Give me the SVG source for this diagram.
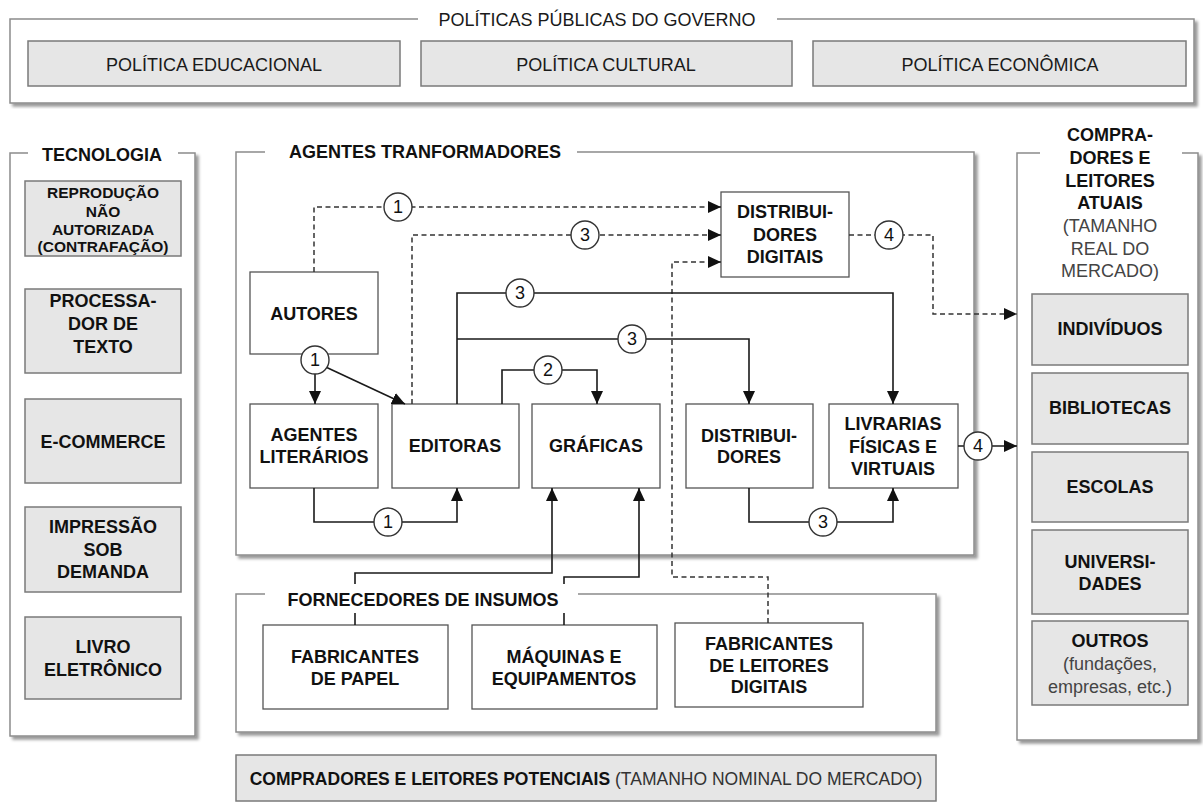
<svg xmlns="http://www.w3.org/2000/svg" width="1203" height="808" viewBox="0 0 1203 808">
<style>
text{font-family:"Liberation Sans",Arial,sans-serif;fill:#111}
.frame{fill:#fff;stroke:#8c8c8c;stroke-width:1.5}
.gbox{fill:#e6e6e6;stroke:#7a7a7a;stroke-width:1.5}
.wbox{fill:#fff;stroke:#555;stroke-width:1.3}
.t{font-size:18px;font-weight:bold;text-anchor:middle}
.ts{font-size:15.5px;font-weight:bold;text-anchor:middle}
.r{font-size:18px;text-anchor:middle;fill:#1a1a1a}
.g{font-size:18px;text-anchor:middle;fill:#444}
.sol{fill:none;stroke:#1a1a1a;stroke-width:1.6}
.dsh{fill:none;stroke:#333;stroke-width:1.5;stroke-dasharray:5 3.5}
.cir{fill:#fff;stroke:#333;stroke-width:1.4}
.cl{font-size:18px;text-anchor:middle;fill:#111}
.lab{fill:#fff}
</style>
<defs>
<filter id="sh" x="-5%" y="-5%" width="112%" height="112%"><feDropShadow dx="3" dy="3" stdDeviation="1.8" flood-color="#000" flood-opacity="0.4"/></filter>
<marker id="ar" markerUnits="userSpaceOnUse" markerWidth="14" markerHeight="12" refX="13" refY="6" orient="auto"><path d="M0,0 L13,6 L0,12 z" fill="#111"/></marker>
</defs>

<!-- Frames -->
<g id="frame-politicas">
<rect class="frame" x="10" y="19" width="1184" height="84" filter="url(#sh)"/>
<rect class="lab" x="418" y="10" width="359" height="18"/>
<text class="r" x="597" y="26">POLÍTICAS PÚBLICAS DO GOVERNO</text>
</g>
<g id="politica-educacional"><rect class="gbox" x="28" y="41" width="372" height="45"/><text class="r" x="214" y="71">POLÍTICA EDUCACIONAL</text></g>
<g id="politica-cultural"><rect class="gbox" x="421" y="41" width="371" height="45"/><text class="r" x="606" y="71">POLÍTICA CULTURAL</text></g>
<g id="politica-economica"><rect class="gbox" x="813" y="41" width="373" height="45"/><text class="r" x="1000" y="71">POLÍTICA ECONÔMICA</text></g>

<g id="frame-tecnologia">
<rect class="frame" x="10" y="153" width="185" height="583" filter="url(#sh)"/>
<rect class="lab" x="28" y="144" width="150" height="18"/>
<text class="t" x="102" y="161">TECNOLOGIA</text>
</g>
<g id="reproducao"><rect class="gbox" x="25" y="181" width="156" height="75"/><text class="ts" x="103" y="198">REPRODUÇÃO</text><text class="ts" x="103" y="216.5">NÃO</text><text class="ts" x="103" y="235">AUTORIZADA</text><text class="ts" x="103" y="252">(CONTRAFAÇÃO)</text></g>
<g id="processador"><rect class="gbox" x="25" y="289" width="156" height="84"/><text class="t" x="103" y="307">PROCESSA-</text><text class="t" x="103" y="330">DOR DE</text><text class="t" x="103" y="353">TEXTO</text></g>
<g id="ecommerce"><rect class="gbox" x="25" y="399" width="156" height="84"/><text class="t" x="103" y="448">E-COMMERCE</text></g>
<g id="impressao"><rect class="gbox" x="25" y="507" width="156" height="85"/><text class="t" x="103" y="533">IMPRESSÃO</text><text class="t" x="103" y="556">SOB</text><text class="t" x="103" y="578">DEMANDA</text></g>
<g id="livro"><rect class="gbox" x="25" y="617" width="156" height="82"/><text class="t" x="103" y="653">LIVRO</text><text class="t" x="103" y="676">ELETRÔNICO</text></g>

<g id="frame-agentes">
<rect class="frame" x="236" y="152" width="738" height="403" filter="url(#sh)"/>
<rect class="lab" x="265" y="143" width="312" height="18"/>
<text class="t" x="425" y="158">AGENTES TRANFORMADORES</text>
</g>

<g id="frame-compradores">
<rect class="frame" x="1017" y="153" width="181" height="587" filter="url(#sh)"/>
<rect class="lab" x="1040" y="144" width="142" height="18"/>
<text class="t" x="1110" y="141">COMPRA-</text>
<text class="t" x="1110" y="164">DORES E</text>
<text class="t" x="1110" y="187">LEITORES</text>
<text class="t" x="1110" y="209">ATUAIS</text>
<text class="g" x="1110" y="232">(TAMANHO</text>
<text class="g" x="1110" y="255">REAL DO</text>
<text class="g" x="1110" y="277">MERCADO)</text>
</g>
<g id="individuos"><rect class="gbox" x="1032" y="294" width="156" height="71"/><text class="t" x="1110" y="335">INDIVÍDUOS</text></g>
<g id="bibliotecas"><rect class="gbox" x="1032" y="373" width="156" height="71"/><text class="t" x="1110" y="414">BIBLIOTECAS</text></g>
<g id="escolas"><rect class="gbox" x="1032" y="452" width="156" height="70"/><text class="t" x="1110" y="493">ESCOLAS</text></g>
<g id="universidades"><rect class="gbox" x="1032" y="530" width="156" height="84"/><text class="t" x="1110" y="568">UNIVERSI-</text><text class="t" x="1110" y="590">DADES</text></g>
<g id="outros"><rect class="gbox" x="1032" y="621" width="156" height="84"/><text class="t" x="1110" y="647">OUTROS</text><text class="g" x="1110" y="670">(fundações,</text><text class="g" x="1110" y="693">empresas, etc.)</text></g>

<g id="frame-fornecedores">
<rect class="frame" x="236" y="594" width="700" height="138" filter="url(#sh)"/>
</g>

<g id="potenciais">
<rect class="gbox" x="236" y="755" width="700" height="46"/>
<text x="586" y="785" style="font-size:17.5px;text-anchor:middle"><tspan font-weight="bold">COMPRADORES E LEITORES POTENCIAIS</tspan><tspan fill="#333"> (TAMANHO NOMINAL DO MERCADO)</tspan></text>
</g>

<!-- Agentes nodes -->
<g id="autores"><rect class="wbox" x="250" y="272" width="128" height="82"/><text class="t" x="314" y="320">AUTORES</text></g>
<g id="distribuidores-digitais"><rect class="wbox" x="721" y="192" width="128" height="85"/><text class="t" x="785" y="218">DISTRIBUI-</text><text class="t" x="785" y="241">DORES</text><text class="t" x="785" y="263">DIGITAIS</text></g>
<g id="agentes-literarios"><rect class="wbox" x="250" y="404" width="128" height="84"/><text class="t" x="314" y="441">AGENTES</text><text class="t" x="314" y="463">LITERÁRIOS</text></g>
<g id="editoras"><rect class="wbox" x="392" y="404" width="127" height="84"/><text class="t" x="455" y="452">EDITORAS</text></g>
<g id="graficas"><rect class="wbox" x="532" y="404" width="128" height="84"/><text class="t" x="596" y="452">GRÁFICAS</text></g>
<g id="distribuidores"><rect class="wbox" x="686" y="404" width="127" height="84"/><text class="t" x="749" y="442">DISTRIBUI-</text><text class="t" x="749" y="463">DORES</text></g>
<g id="livrarias"><rect class="wbox" x="829" y="404" width="129" height="84"/><text class="t" x="893" y="430">LIVRARIAS</text><text class="t" x="893" y="453">FÍSICAS E</text><text class="t" x="893" y="475">VIRTUAIS</text></g>

<!-- Fornecedores nodes -->
<g id="fabricantes-papel"><rect class="wbox" x="263" y="625" width="185" height="84"/><text class="t" x="355" y="663">FABRICANTES</text><text class="t" x="355" y="685">DE PAPEL</text></g>
<g id="maquinas"><rect class="wbox" x="472" y="625" width="185" height="84"/><text class="t" x="564" y="663">MÁQUINAS E</text><text class="t" x="564" y="685">EQUIPAMENTOS</text></g>
<g id="fabricantes-leitores"><rect class="wbox" x="675" y="623" width="188" height="84"/><text class="t" x="769" y="650">FABRICANTES</text><text class="t" x="769" y="672">DE LEITORES</text><text class="t" x="769" y="693">DIGITAIS</text></g>

<!-- Connectors -->
<g id="connectors">
<path class="dsh" d="M314,272 V207 H721" marker-end="url(#ar)"/>
<path class="dsh" d="M412,404 V235 H721" marker-end="url(#ar)"/>
<path class="dsh" d="M768,623 V577 H672 V262 H721" marker-end="url(#ar)"/>
<path class="dsh" d="M849,235 H933 V314 H1017" marker-end="url(#ar)"/>
<path class="sol" d="M457,404 V293 H893 V404" marker-end="url(#ar)"/>
<path class="sol" d="M457,339 H749 V404" marker-end="url(#ar)"/>
<path class="sol" d="M502,404 V370 H597 V404" marker-end="url(#ar)"/>
<path class="sol" d="M315,362 V404" marker-end="url(#ar)"/>
<path class="sol" d="M315,362 L405,404" marker-end="url(#ar)"/>
<path class="sol" d="M314,488 V522 H457 V488" marker-end="url(#ar)"/>
<path class="sol" d="M749,488 V522 H893 V488" marker-end="url(#ar)"/>
<path class="sol" d="M958,446 H1017" marker-end="url(#ar)"/>
<path class="sol" d="M355,625 V573 H552 V488" marker-end="url(#ar)"/>
<path class="sol" d="M564,625 V577 H639 V488" marker-end="url(#ar)"/>
<circle class="cir" cx="398" cy="207" r="14"/><text class="cl" x="398" y="213">1</text>
<circle class="cir" cx="585" cy="235" r="14"/><text class="cl" x="585" y="241">3</text>
<circle class="cir" cx="889" cy="235" r="14"/><text class="cl" x="889" y="241">4</text>
<circle class="cir" cx="520" cy="293" r="14"/><text class="cl" x="520" y="299">3</text>
<circle class="cir" cx="632" cy="339" r="14"/><text class="cl" x="632" y="345">3</text>
<circle class="cir" cx="548" cy="370" r="14"/><text class="cl" x="548" y="376">2</text>
<circle class="cir" cx="315" cy="360" r="14"/><text class="cl" x="315" y="366">1</text>
<circle class="cir" cx="388" cy="522" r="14"/><text class="cl" x="388" y="528">1</text>
<circle class="cir" cx="823" cy="522" r="14"/><text class="cl" x="823" y="528">3</text>
<circle class="cir" cx="978" cy="446" r="14"/><text class="cl" x="978" y="452">4</text>
</g>

<g id="fornecedores-label">
<rect class="lab" x="265" y="584" width="313" height="29"/>
<text class="t" x="423" y="606">FORNECEDORES DE INSUMOS</text>
</g>
</svg>
